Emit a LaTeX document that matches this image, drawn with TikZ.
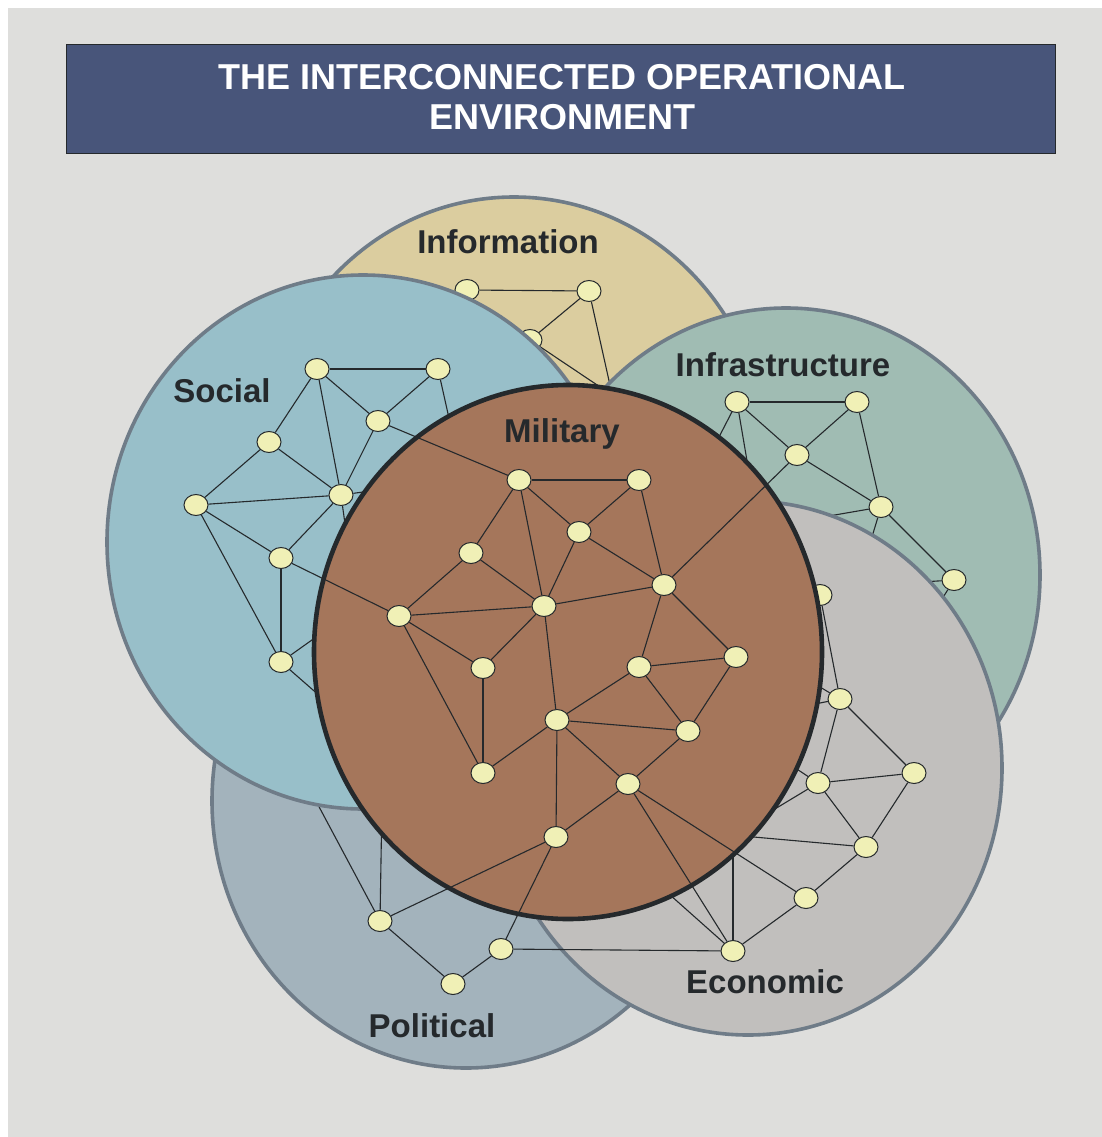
\documentclass[tikz,border=0pt]{standalone}
\usepackage{fontspec}
\setmainfont{Liberation Sans}
\usetikzlibrary{shapes.geometric}
\definecolor{bgC}{HTML}{DEDEDC}
\definecolor{titleC}{HTML}{48557A}
\definecolor{infoC}{HTML}{DBCD9F}
\definecolor{socialC}{HTML}{98BFC9}
\definecolor{infraC}{HTML}{A0BCB3}
\definecolor{econC}{HTML}{C1BFBD}
\definecolor{polC}{HTML}{A3B3BC}
\definecolor{milC}{HTML}{A5765B}
\definecolor{hubC}{HTML}{F0F0B6}
\definecolor{rimC}{HTML}{6F7C88}
\definecolor{inkC}{HTML}{25292C}
\begin{document}
\begin{tikzpicture}[x=1pt,y=-1pt,
  hub/.style={ellipse,draw=inkC,fill=hubC,line width=1pt,minimum width=24pt,minimum height=21pt,inner sep=0pt},
  wire/.style={draw=inkC,line width=1.1pt},
  zone/.style={fill=#1,draw=rimC,line width=3.6pt},
  lbl/.style={font=\bfseries\fontsize{33}{38}\selectfont,text=inkC,anchor=base,inner sep=0pt},
  ttl/.style={font=\bfseries\fontsize{36}{40}\selectfont,text=white,anchor=base,inner sep=0pt}
]
\useasboundingbox (0,0) rectangle (1102,1137);
\fill[white] (0,0) rectangle (1102,1137);
\fill[bgC] (8,8) rectangle (1102,1137);

% title
\node[draw=inkC,fill=titleC,line width=0.8pt,minimum width=989pt,minimum height=109pt,inner sep=0pt,anchor=north west] (title) at (66,44) {};
\node[ttl] (t1) at (562,90) {THE INTERCONNECTED OPERATIONAL};
\node[ttl] (t2) at (562,129) {ENVIRONMENT};

% ---------------- Information
\path[zone=infoC] (514,464) ellipse [x radius=254pt, y radius=267pt];
\node[hub] (I1) at (467,290) {};
\node[hub] (I2) at (589,291) {};
\node[hub] (I3) at (530,340) {};
\coordinate (ih1) at (620,430);
\coordinate (ih2) at (627,405);
\draw[wire] (I1) -- (I2);
\draw[wire] (I2) -- (I3);
\draw[wire] (I2) -- (ih1);
\draw[wire] (I3) -- (ih2);

% ---------------- Political
\path[zone=polC] (466,801) ellipse [x radius=254pt, y radius=267pt];
\node[hub] (P1) at (380,921) {};
\node[hub] (P2) at (501,949) {};
\node[hub] (P3) at (453,984) {};
\coordinate (ph1) at (382,800);
\coordinate (ph2) at (301,773);
\draw[wire] (P1) -- (P3);
\draw[wire] (P3) -- (P2);
\draw[wire] (P1) -- (ph1);
\draw[wire] (P1) -- (ph2);

% ---------------- Infrastructure
\path[zone=infraC] (786,575) ellipse [x radius=254pt, y radius=267pt];
\node[hub] (F1) at (737,402) {};
\node[hub] (F2) at (857,402) {};
\node[hub] (F3) at (797,455) {};
\node[hub] (F4) at (881,507) {};
\node[hub] (F5) at (954,580) {};
\coordinate (fh1) at (700,474);
\coordinate (fh2) at (752,490);
\coordinate (fh3) at (800,521);
\coordinate (fh4) at (865,560);
\coordinate (fh5) at (905,583);
\coordinate (fh6) at (935,610);
\draw[wire] (F1) -- (F2);
\draw[wire] (F1) -- (F3);
\draw[wire] (F2) -- (F3);
\draw[wire] (F2) -- (F4);
\draw[wire] (F3) -- (F4);
\draw[wire] (F4) -- (F5);
\draw[wire] (F1) -- (fh1);
\draw[wire] (F1) -- (fh2);
\draw[wire] (F4) -- (fh3);
\draw[wire] (F4) -- (fh4);
\draw[wire] (F5) -- (fh5);
\draw[wire] (F5) -- (fh6);

% ---------------- Economic
\path[zone=econC] (748,768) ellipse [x radius=254pt, y radius=267pt];
\node[hub] (E0) at (820,595) {};
\node[hub] (E1) at (840,699) {};
\node[hub] (E2) at (914,773) {};
\node[hub] (E3) at (818,783) {};
\node[hub] (E4) at (866,847) {};
\node[hub] (E5) at (806,898) {};
\node[hub] (E6) at (733,951) {};
\coordinate (eh1) at (790,669);
\coordinate (eh2) at (790,709);
\coordinate (eh3) at (745,827);
\coordinate (eh4) at (780,758);
\coordinate (eh5) at (720,834);
\coordinate (eh6) at (733,830);
\coordinate (eh7) at (660,886);
\draw[wire] (E0) -- (E1);
\draw[wire] (E1) -- (E2);
\draw[wire] (E1) -- (E3);
\draw[wire] (E2) -- (E3);
\draw[wire] (E2) -- (E4);
\draw[wire] (E3) -- (E4);
\draw[wire] (E4) -- (E5);
\draw[wire] (E5) -- (E6);
\draw[wire] (E1) -- (eh1);
\draw[wire] (E1) -- (eh2);
\draw[wire] (E3) -- (eh3);
\draw[wire] (E3) -- (eh4);
\draw[wire] (E4) -- (eh5);
\draw[wire] (E6) -- (eh6);
\draw[wire] (E6) -- (eh7);

% ---------------- Social
\path[zone=socialC] (363,542) ellipse [x radius=256pt, y radius=267pt];
\node[hub] (S1) at (317,369) {};
\node[hub] (S2) at (438,369) {};
\node[hub] (S3) at (378,421) {};
\node[hub] (S4) at (269,442) {};
\node[hub] (S5) at (341,495) {};
\node[hub] (S6) at (196,505) {};
\node[hub] (S7) at (281,558) {};
\node[hub] (S8) at (281,662) {};
\coordinate (sh1) at (455,445);
\coordinate (sh2) at (400,487);
\coordinate (sh3) at (350,560);
\coordinate (sh4) at (340,620);
\coordinate (sh5) at (345,718);
\draw[wire] (S1) -- (S2);
\draw[wire] (S1) -- (S3);
\draw[wire] (S1) -- (S4);
\draw[wire] (S1) -- (S5);
\draw[wire] (S2) -- (S3);
\draw[wire] (S3) -- (S5);
\draw[wire] (S4) -- (S5);
\draw[wire] (S4) -- (S6);
\draw[wire] (S5) -- (S6);
\draw[wire] (S5) -- (S7);
\draw[wire] (S6) -- (S7);
\draw[wire] (S6) -- (S8);
\draw[wire] (S7) -- (S8);
\draw[wire] (S2) -- (sh1);
\draw[wire] (S5) -- (sh2);
\draw[wire] (S5) -- (sh3);
\draw[wire] (S8) -- (sh4);
\draw[wire] (S8) -- (sh5);

% ---------------- Military
\path[fill=milC,draw=inkC,line width=4.6pt] (568,652) ellipse [x radius=254pt, y radius=267pt];
\node[hub] (M1) at (519,480) {};
\node[hub] (M2) at (639,480) {};
\node[hub] (M3) at (579,532) {};
\node[hub] (M4) at (471,553) {};
\node[hub] (M5) at (664,585) {};
\node[hub] (M6) at (544,606) {};
\node[hub] (M7) at (399,616) {};
\node[hub] (M8) at (483,668) {};
\node[hub] (M9) at (639,667) {};
\node[hub] (M10) at (736,657) {};
\node[hub] (M11) at (483,773) {};
\node[hub] (M12) at (557,720) {};
\node[hub] (M13) at (688,731) {};
\node[hub] (M14) at (628,784) {};
\node[hub] (M15) at (556,837) {};
\draw[wire] (M1) -- (M2);
\draw[wire] (M1) -- (M3);
\draw[wire] (M1) -- (M4);
\draw[wire] (M1) -- (M6);
\draw[wire] (M2) -- (M3);
\draw[wire] (M2) -- (M5);
\draw[wire] (M3) -- (M5);
\draw[wire] (M3) -- (M6);
\draw[wire] (M4) -- (M6);
\draw[wire] (M4) -- (M7);
\draw[wire] (M5) -- (M6);
\draw[wire] (M5) -- (M9);
\draw[wire] (M5) -- (M10);
\draw[wire] (M6) -- (M7);
\draw[wire] (M6) -- (M8);
\draw[wire] (M6) -- (M12);
\draw[wire] (M7) -- (M8);
\draw[wire] (M7) -- (M11);
\draw[wire] (M8) -- (M11);
\draw[wire] (M9) -- (M10);
\draw[wire] (M9) -- (M12);
\draw[wire] (M9) -- (M13);
\draw[wire] (M10) -- (M13);
\draw[wire] (M11) -- (M12);
\draw[wire] (M12) -- (M13);
\draw[wire] (M12) -- (M14);
\draw[wire] (M12) -- (M15);
\draw[wire] (M13) -- (M14);
\draw[wire] (M14) -- (M15);
% cross-domain links
\draw[wire] (S3) -- (M1);
\draw[wire] (S7) -- (M7);
\draw[wire] (F3) -- (M5);
\draw[wire] (M14) -- (E5);
\draw[wire] (M14) -- (E6);
\draw[wire] (M15) -- (P1);
\draw[wire] (M15) -- (P2);
\draw[wire] (P2) -- (E6);

% labels
\node[lbl] (lInfo) at (508,253) {Information};
\node[lbl] (lSoc) at (222,402) {Social};
\node[lbl] (lInfra) at (783,376) {Infrastructure};
\node[lbl] (lMil) at (562,442) {Military};
\node[lbl] (lEco) at (765,993) {Economic};
\node[lbl] (lPol) at (432,1037) {Political};
\end{tikzpicture}
\end{document}
